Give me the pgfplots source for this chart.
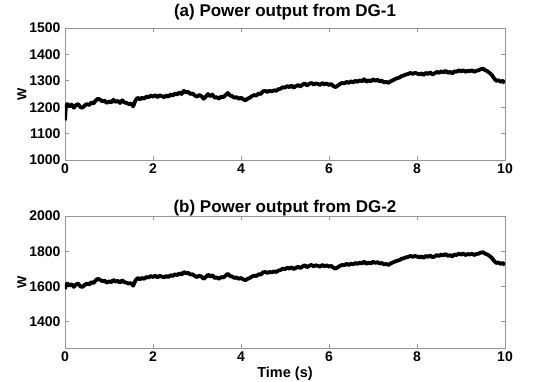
\documentclass[border=0pt]{standalone}
\usepackage{pgfplots}
\pgfplotsset{compat=1.18}
\usepackage{fontspec}
\setmainfont{Liberation Sans}
\definecolor{axgray}{RGB}{150,150,150}
\pgfplotstableread{
x y
0 1150
0.02 1205
0.05 1212
0.1 1203
0.15 1210
0.2 1198
0.25 1208
0.3 1212
0.35 1200
0.4 1198
0.45 1207
0.5 1212
0.55 1208
0.6 1218
0.65 1214
0.7 1226
0.75 1232
0.8 1228
0.85 1222
0.9 1225
0.95 1216
1.0 1222
1.05 1218
1.1 1228
1.15 1220
1.2 1224
1.25 1216
1.3 1226
1.35 1218
1.4 1216
1.45 1212
1.5 1214
1.55 1203
1.6 1225
1.65 1236
1.7 1230
1.75 1236
1.8 1232
1.85 1240
1.9 1238
1.95 1244
2.0 1240
2.05 1246
2.1 1238
2.15 1245
2.2 1242
2.25 1238
2.3 1244
2.35 1240
2.4 1248
2.45 1244
2.5 1252
2.55 1248
2.6 1256
2.65 1250
2.7 1262
2.75 1256
2.8 1258
2.85 1250
2.9 1252
2.95 1244
3.0 1240
3.05 1246
3.1 1242
3.15 1232
3.2 1240
3.25 1250
3.3 1242
3.35 1248
3.4 1236
3.45 1238
3.5 1232
3.55 1240
3.6 1238
3.65 1246
3.7 1254
3.75 1244
3.8 1242
3.85 1236
3.9 1238
3.95 1232
4.0 1236
4.05 1230
4.1 1226
4.15 1232
4.2 1236
4.25 1242
4.3 1246
4.35 1244
4.4 1252
4.45 1250
4.5 1260
4.55 1262
4.6 1258
4.65 1262
4.7 1260
4.75 1264
4.8 1262
4.85 1268
4.9 1270
4.95 1276
5.0 1274
5.05 1280
5.1 1276
5.15 1282
5.2 1274
5.25 1280
5.3 1284
5.35 1278
5.4 1286
5.45 1290
5.5 1282
5.55 1288
5.6 1292
5.65 1286
5.7 1290
5.75 1288
5.8 1284
5.85 1292
5.9 1286
5.95 1290
6.0 1284
6.05 1288
6.1 1280
6.15 1276
6.2 1282
6.25 1288
6.3 1292
6.35 1290
6.4 1296
6.45 1292
6.5 1298
6.55 1294
6.6 1300
6.65 1296
6.7 1302
6.75 1298
6.8 1306
6.85 1296
6.9 1302
6.95 1298
7.0 1306
7.05 1300
7.1 1304
7.15 1298
7.2 1300
7.25 1294
7.3 1296
7.35 1292
7.4 1298
7.45 1302
7.5 1306
7.55 1310
7.6 1312
7.65 1318
7.7 1320
7.75 1324
7.8 1326
7.85 1330
7.9 1326
7.95 1330
8.0 1328
8.05 1324
8.1 1328
8.15 1322
8.2 1330
8.25 1326
8.3 1332
8.35 1324
8.4 1328
8.45 1334
8.5 1330
8.55 1336
8.6 1332
8.65 1338
8.7 1330
8.75 1334
8.8 1328
8.85 1336
8.9 1334
8.95 1340
9.0 1336
9.05 1340
9.1 1334
9.15 1338
9.2 1336
9.25 1340
9.3 1334
9.35 1338
9.4 1340
9.45 1344
9.5 1346
9.55 1340
9.6 1336
9.65 1330
9.7 1322
9.75 1310
9.8 1300
9.85 1302
9.9 1296
9.95 1300
10.0 1292
}\dgone
\pgfplotstableread{
x y
0 1585
0.02 1607
0.05 1616
0.1 1604
0.15 1613
0.2 1597
0.25 1611
0.3 1616
0.35 1600
0.4 1597
0.45 1609
0.5 1616
0.55 1611
0.6 1624
0.65 1619
0.7 1635
0.75 1643
0.8 1637
0.85 1629
0.9 1633
0.95 1621
1.0 1629
1.05 1624
1.1 1637
1.15 1627
1.2 1632
1.25 1621
1.3 1635
1.35 1624
1.4 1621
1.45 1616
1.5 1619
1.55 1604
1.6 1633
1.65 1648
1.7 1640
1.75 1648
1.8 1643
1.85 1653
1.9 1651
1.95 1659
2.0 1653
2.05 1661
2.1 1651
2.15 1660
2.2 1656
2.25 1651
2.3 1659
2.35 1653
2.4 1664
2.45 1659
2.5 1669
2.55 1664
2.6 1674
2.65 1667
2.7 1682
2.75 1674
2.8 1677
2.85 1667
2.9 1669
2.95 1659
3.0 1653
3.05 1661
3.1 1656
3.15 1643
3.2 1653
3.25 1667
3.3 1656
3.35 1664
3.4 1648
3.45 1651
3.5 1643
3.55 1653
3.6 1651
3.65 1661
3.7 1672
3.75 1659
3.8 1656
3.85 1648
3.9 1651
3.95 1643
4.0 1648
4.05 1640
4.1 1635
4.15 1643
4.2 1648
4.25 1656
4.3 1661
4.35 1659
4.4 1669
4.45 1667
4.5 1680
4.55 1682
4.6 1677
4.65 1682
4.7 1680
4.75 1685
4.8 1682
4.85 1690
4.9 1693
4.95 1701
5.0 1698
5.05 1706
5.1 1701
5.15 1709
5.2 1698
5.25 1706
5.3 1712
5.35 1704
5.4 1714
5.45 1720
5.5 1709
5.55 1717
5.6 1722
5.65 1714
5.7 1720
5.75 1717
5.8 1712
5.85 1722
5.9 1714
5.95 1720
6.0 1712
6.05 1717
6.1 1706
6.15 1701
6.2 1709
6.25 1717
6.3 1722
6.35 1720
6.4 1728
6.45 1722
6.5 1730
6.55 1725
6.6 1733
6.65 1728
6.7 1736
6.75 1730
6.8 1741
6.85 1728
6.9 1736
6.95 1730
7.0 1741
7.05 1733
7.1 1738
7.15 1730
7.2 1733
7.25 1725
7.3 1728
7.35 1722
7.4 1730
7.45 1736
7.5 1741
7.55 1746
7.6 1749
7.65 1757
7.7 1760
7.75 1765
7.8 1768
7.85 1773
7.9 1768
7.95 1773
8.0 1770
8.05 1765
8.1 1770
8.15 1762
8.2 1773
8.25 1768
8.3 1776
8.35 1765
8.4 1770
8.45 1778
8.5 1773
8.55 1781
8.6 1776
8.65 1784
8.7 1773
8.75 1778
8.8 1770
8.85 1781
8.9 1778
8.95 1786
9.0 1781
9.05 1786
9.1 1778
9.15 1784
9.2 1781
9.25 1786
9.3 1778
9.35 1784
9.4 1786
9.45 1792
9.5 1794
9.55 1786
9.6 1781
9.65 1773
9.7 1762
9.75 1746
9.8 1733
9.85 1736
9.9 1728
9.95 1733
10.0 1722
}\dgtwo
\pgfplotsset{
  dgstyle/.style={
    scale only axis, width=440pt, height=132pt,
    anchor=south west,
    xmin=0, xmax=10, xtick={0,2,...,10},
    axis line style={axgray, line width=0.8pt},
    tick style={axgray, line width=0.8pt},
    major tick length=4pt,
    tick align=inside,
    every tick label/.append style={font=\fontsize{14}{16}\selectfont\bfseries, text=black},
    /pgf/number format/assume math mode=true,
    /pgf/number format/1000 sep={},
    title style={font=\fontsize{17}{19}\selectfont\bfseries, yshift=-2pt},
    every axis y label/.append style={font=\fontsize{13}{15}\selectfont\bfseries},
    xlabel style={font=\fontsize{14.5}{16}\selectfont\bfseries, yshift=1pt},
    ylabel style={yshift=-4pt},
    yticklabel style={xshift=-1pt},
  }
}
\begin{document}
\begin{tikzpicture}
\useasboundingbox (0,0) rectangle (535pt,382pt);
\begin{axis}[dgstyle, at={(65pt,222pt)},
  ymin=1000, ymax=1500, ytick={1000,1100,...,1500},
  title={(a) Power output from DG-1}, ylabel={W}]
\addplot[black, line width=3.8pt, line join=round] table[x=x,y=y] {\dgone};
\end{axis}
\begin{axis}[dgstyle, at={(65pt,34pt)},
  ymin=1250, ymax=2000, ytick={1400,1600,1800,2000},
  title={(b) Power output from DG-2}, title style={yshift=-8pt}, ylabel={W}, xlabel={Time (s)}]
\addplot[black, line width=3.8pt, line join=round] table[x=x,y=y] {\dgtwo};
\end{axis}
\end{tikzpicture}
\end{document}
